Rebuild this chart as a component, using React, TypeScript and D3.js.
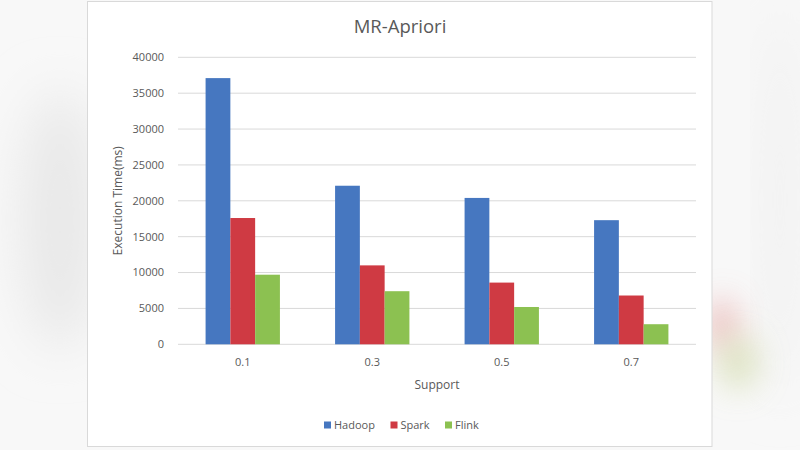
import React from "react";
import * as d3 from "d3";

const categories = ["0.1", "0.3", "0.5", "0.7"];
const seriesNames = ["Hadoop", "Spark", "Flink"];
const hadoop = [37100, 22100, 20400, 17300];
const spark = [17600, 11000, 8600, 6800];
const flink = [9700, 7400, 5200, 2800];
const yTicks = [0, 5000, 10000, 15000, 20000, 25000, 30000, 35000, 40000];
const colors = ["#4677c0", "#cf3a43", "#8cc151"];

const W = 800;
const H = 450;
const plot = { left: 178, right: 696, top: 57.3, bottom: 344.3 };
const font = "'Open Sans', 'Noto Sans', 'DejaVu Sans', sans-serif";
const textColor = "#595959";

export default function App() {
  const series = [hadoop, spark, flink];
  const x = d3.scaleBand<string>().domain(categories).range([plot.left, plot.right]).paddingInner(0).paddingOuter(0);
  const y = d3.scaleLinear().domain([0, 40000]).range([plot.bottom, plot.top]);
  const groupW = x.bandwidth() * 0.574;
  const inner = d3.scaleBand<string>().domain(seriesNames).range([0, groupW]).padding(0);
  const groupOffset = (x.bandwidth() - groupW) / 2;

  const legendItems = [
    { name: "Hadoop", x: 324 },
    { name: "Spark", x: 390.5 },
    { name: "Flink", x: 445 },
  ];

  return (
    <svg width={W} height={H} style={{ position: "absolute", left: 0, top: 0 }}>
      <defs>
        <filter id="blurBig" x="-100%" y="-100%" width="300%" height="300%">
          <feGaussianBlur stdDeviation="16" />
        </filter>
        <filter id="blurMid" x="-50%" y="-50%" width="200%" height="200%">
          <feGaussianBlur stdDeviation="25" />
        </filter>
      </defs>
      <rect x={0} y={0} width={W} height={H} fill="#f8f8f8" />
      <ellipse cx={60} cy={220} rx={40} ry={130} fill="#e8e8e8" filter="url(#blurMid)" />
      <ellipse cx={780} cy={200} rx={15} ry={200} fill="#eeeeee" filter="url(#blurMid)" />
      <ellipse cx={722} cy={325} rx={14} ry={26} fill="#e6a2a2" opacity={0.75} filter="url(#blurBig)" />
      <ellipse cx={738} cy={362} rx={20} ry={28} fill="#d3dcae" opacity={0.75} filter="url(#blurBig)" />
      <rect x={87.5} y={1.5} width={624.5} height={445} fill="#ffffff" stroke="#d9d9d9" strokeWidth={1} />

      <text x={400} y={33} textAnchor="middle" fontFamily={font} fontSize={18.5} fill={textColor}>
        MR-Apriori
      </text>

      {yTicks.map((t) => (
        <g key={t}>
          <line x1={plot.left} x2={plot.right} y1={y(t)} y2={y(t)} stroke="#d9d9d9" strokeWidth={1} />
          <text x={164} y={y(t)} dy="0.35em" textAnchor="end" fontFamily={font} fontSize={11} fill={textColor}>
            {t}
          </text>
        </g>
      ))}

      {categories.map((c, i) => (
        <g key={c}>
          {series.map((s, j) => (
            <rect
              key={j}
              x={(x(c) as number) + groupOffset + (inner(seriesNames[j]) as number)}
              y={y(s[i])}
              width={inner.bandwidth()}
              height={y(0) - y(s[i])}
              fill={colors[j]}
            />
          ))}
          <text
            x={(x(c) as number) + x.bandwidth() / 2}
            y={362}
            dy="0.35em"
            textAnchor="middle"
            fontFamily={font}
            fontSize={11}
            fill={textColor}
          >
            {c}
          </text>
        </g>
      ))}

      <text x={(plot.left + plot.right) / 2} y={385} dy="0.35em" textAnchor="middle" fontFamily={font} fontSize={12} fill={textColor}>
        Support
      </text>
      <text
        transform={`translate(118,${(plot.top + plot.bottom) / 2}) rotate(-90)`}
        textAnchor="middle"
        dy="0.35em"
        fontFamily={font}
        fontSize={12}
        fill={textColor}
      >
        Execution Time(ms)
      </text>

      {legendItems.map((l, i) => (
        <g key={l.name}>
          <rect x={l.x} y={421.5} width={7} height={7} fill={colors[i]} />
          <text x={l.x + 10} y={425} dy="0.35em" fontFamily={font} fontSize={11} fill={textColor}>
            {l.name}
          </text>
        </g>
      ))}
    </svg>
  );
}
